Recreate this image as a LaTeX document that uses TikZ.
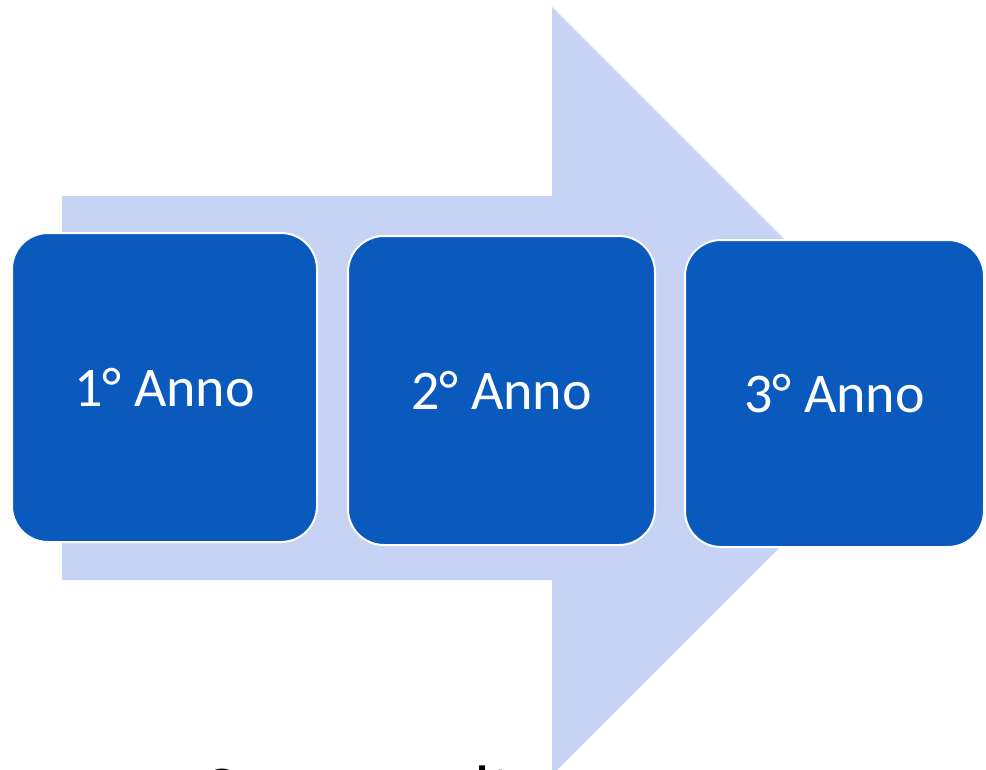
\documentclass[tikz,border=0pt]{standalone}
\usepackage{fontspec}
\setmainfont{Carlito}
\definecolor{arrowfill}{RGB}{198,211,244}
\definecolor{boxfill}{RGB}{10,90,190}
\begin{document}
\begin{tikzpicture}[x=1pt,y=-1pt,
  yearbox/.style={draw=white, line width=2pt, fill=boxfill, rounded corners=36pt,
    inner sep=0pt, text=white, font=\fontsize{56}{64}\selectfont},
  bottomtext/.style={anchor=base west, inner sep=0pt, text=black, font=\fontsize{70}{80}\selectfont}
]
\useasboundingbox (0,0) rectangle (986,769);
\fill[white] (0,0) rectangle (986,769);
% big arrow
\fill[arrowfill] (62,196) -- (552,196) -- (552,7) -- (936,391) -- (552,775) -- (552,580) -- (62,580) -- cycle;
% year boxes
\node[yearbox, minimum width=305pt, minimum height=309pt] (y1) at (164.5,387.5) {1° Anno};
\node[yearbox, minimum width=307pt, minimum height=309pt] (y2) at (501.5,390.5) {2° Anno};
\node[yearbox, minimum width=299pt, minimum height=307pt] (y3) at (834.5,393.5) {3° Anno};
% partially visible text at the bottom edge
\node[bottomtext] (tc) at (200,814) {C};
\node[bottomtext] (tlt) at (474,814) {lt};
\end{tikzpicture}
\end{document}
